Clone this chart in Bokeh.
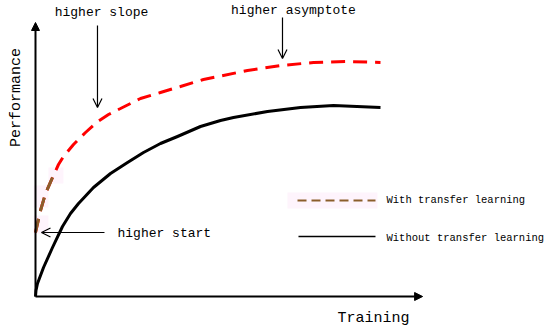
from bokeh.plotting import figure
from bokeh.models import Range1d, Arrow, NormalHead, OpenHead, ColumnDataSource
from bokeh.embed import file_html
from bokeh.resources import INLINE
from bokeh.core.properties import value

# Curves (training progress 0..100, performance 0..100)
train_without = [0, 0.14, 0.57, 2.29, 4.86, 7.71, 10.0, 12.29, 16.57, 21.43, 26.29, 30.86, 35.71,
                 40.57, 47.14, 52.86, 56.57, 66.29, 75.71, 85.14, 98.57]
perf_without = [0, 2.4, 5.2, 11.6, 19.6, 28.0, 33.2, 37.2, 43.6, 49.2, 53.6, 57.6, 61.2,
                64.0, 68.0, 70.4, 71.6, 74.0, 75.6, 76.4, 75.6]

train_with = [0, 1.43, 2.86, 4.86, 6.57, 8.0, 10.86, 14.29, 17.43, 20.86, 24.29, 30.0, 35.71,
              41.43, 48.0, 60.57, 70.0, 79.43, 89.14, 98.57]
perf_with = [25.6, 34.4, 41.2, 47.6, 52.8, 56.0, 60.8, 65.6, 69.6, 72.8, 75.2, 79.2, 81.6,
             84.0, 86.8, 90.4, 92.4, 93.6, 94.0, 93.6]

legend_labels = ["With transfer learning", "Without transfer learning"]
annotation_labels = ["higher slope", "higher asymptote", "higher start"]

FONT = "Liberation Mono"

p = figure(width=550, height=336, output_backend="svg", toolbar_location=None,
           x_range=Range1d(-10.0, 147.143), y_range=Range1d(-16.0, 118.4),
           x_axis_type=None, y_axis_type=None, min_border=0)
p.grid.visible = False
p.outline_line_color = None
p.background_fill_color = "white"

# faint pink highlights
p.quad(left=[-0.57, -0.57, 3.71, 72.0], right=[3.71, 3.71, 8.0, 97.7],
       bottom=[25.2, 35.6, 45.2, 35.2], top=[32.4, 44.4, 51.6, 41.6],
       fill_color="#fef4fc", line_color=None)

# axes
p.add_layout(Arrow(end=NormalHead(size=8, fill_color="black", line_color="black", line_width=1),
                   x_start=0, y_start=0, x_end=0, y_end=109.6, line_width=2, line_color="black"))
p.add_layout(Arrow(end=NormalHead(size=8, fill_color="black", line_color="black", line_width=1),
                   x_start=0, y_start=0, x_end=110.6, y_end=0, line_width=2, line_color="black"))

# curves
p.line(train_without, perf_without, line_color="black", line_width=3, line_join="round")
p.line(train_with, perf_with, line_color="#ff0000", line_width=3, line_dash="14 8")
p.line(train_with[:4], perf_with[:4], line_color="#8b5e2b", line_width=3, line_dash="14 8")

# annotation arrows
for xs, ys, xe, ye in [(17.71, 108.4, 17.71, 75.6), (70.57, 111.6, 70.57, 95.2), (19.71, 25.6, 1.71, 25.6)]:
    p.add_layout(Arrow(end=OpenHead(size=9, line_width=1.2, line_color="black"),
                       x_start=xs, y_start=ys, x_end=xe, y_end=ye, line_width=1.2, line_color="black"))

src = ColumnDataSource(dict(x=[18.86, 73.7], y=[113.6, 114.4], t=annotation_labels[:2]))
p.text(x="x", y="y", text="t", source=src, text_font=value(FONT), text_font_size="13px",
       text_align="center", text_baseline="middle", text_color="black")
p.text(x=[23.43], y=[25.2], text=[annotation_labels[2]], text_font=value(FONT), text_font_size="13px",
       text_align="left", text_baseline="middle", text_color="black")

# legend
p.line([74.86, 97.14], [38.4, 38.4], line_color="#8b5e2b", line_width=2, line_dash="9 5")
p.line([75.14, 97.14], [24.0, 24.0], line_color="black", line_width=1.5)
p.text(x=[100.29, 100.29], y=[38.8, 23.6], text=legend_labels, text_font=value(FONT),
       text_font_size="10.5px", text_align="left", text_baseline="middle", text_color="black")

# axis titles
p.text(x=[86.29], y=[-8.8], text=["Training"], text_font=value(FONT), text_font_size="15px",
       text_align="left", text_baseline="middle", text_color="black")
p.text(x=[-5.43], y=[79.6], text=["Performance"], text_font=value(FONT), text_font_size="15px",
       text_align="center", text_baseline="middle", angle=1.5708, text_color="black")

open("out.html", "w").write(file_html(p, INLINE))
